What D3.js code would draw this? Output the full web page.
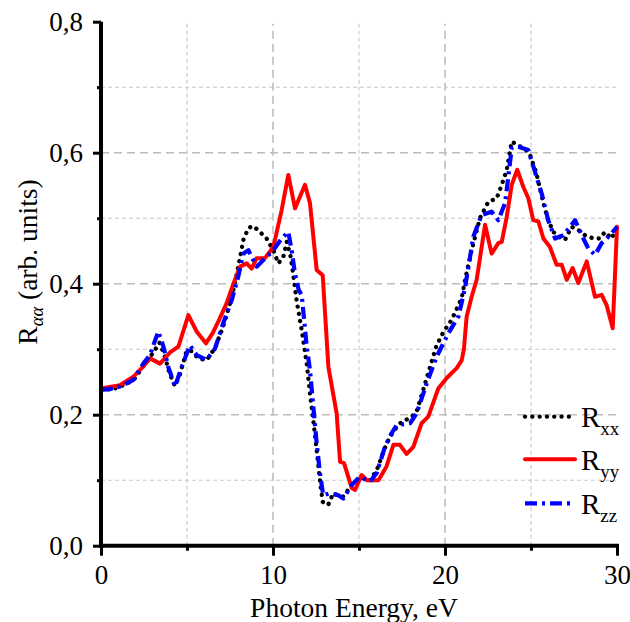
<!DOCTYPE html>
<html>
<head>
<meta charset="utf-8">
<script src="https://cdn.jsdelivr.net/npm/d3@7"></script>
<style>
  html, body { margin: 0; padding: 0; background: #fff; }
  svg { display: block; }
  text { font-family: "Liberation Serif", "Times New Roman", serif; fill: #000; }
</style>
</head>
<body>
<svg id="chart" width="630" height="622"></svg>
<script>
// ---- data ----
const xMajorTicks = [0, 10, 20, 30];
const xMinorTicks = [5, 15, 25];
const yMajorTicks = [0, 0.2, 0.4, 0.6, 0.8];
const yMinorTicks = [0.1, 0.3, 0.5, 0.7];
const xLabel = "Photon Energy, eV";
const seriesNames = ["xx", "yy", "zz"];

// Rxx (black dotted): [energy eV, reflectivity]
const rxx = [
  [0,0.238],[0.7,0.239],[1.3,0.245],[1.9,0.253],[2.4,0.272],[2.85,0.288],[3.14,0.299],[3.4,0.31],
  [3.7,0.29],[4.0,0.262],[4.3,0.244],[4.6,0.262],[4.98,0.298],[5.27,0.297],[5.66,0.286],[6.14,0.283],
  [6.63,0.302],[7.11,0.335],[7.6,0.379],[7.98,0.426],[8.28,0.467],[8.57,0.485],[8.86,0.488],[9.24,0.479],
  [9.63,0.469],[10.02,0.451],[10.31,0.431],[10.6,0.441],[10.8,0.464],[11.03,0.441],[11.18,0.413],
  [11.38,0.373],[11.67,0.329],[11.96,0.278],[12.15,0.233],[12.34,0.192],[12.54,0.146],[12.73,0.100],
  [12.89,0.067],[13.12,0.062],[13.22,0.063],[13.5,0.08],[13.8,0.077],[14.09,0.075],[14.58,0.093],
  [15.06,0.105],[15.64,0.1],[16.03,0.115],[16.6,0.156],[17.0,0.175],[17.5,0.19],[18.0,0.195],[18.35,0.205],
  [18.7,0.235],[19.13,0.273],[19.5,0.305],[19.9,0.326],[20.39,0.345],[20.97,0.378],[21.2,0.41],
  [21.55,0.451],[22.03,0.500],[22.52,0.525],[23.0,0.530],[23.3,0.551],[23.59,0.574],[23.88,0.617],
  [24.2,0.612],[24.55,0.607],[24.9,0.600],[25.3,0.570],[25.72,0.523],[26.0,0.497],[26.3,0.479],
  [26.59,0.472],[26.98,0.467],[27.36,0.487],[27.75,0.482],[28.14,0.474],[28.62,0.469],[29.0,0.469],
  [29.3,0.479],[29.69,0.469],[30.0,0.487]
];

// Ryy (red solid)
const ryy = [
  [0,0.240],[1.1,0.245],[1.88,0.258],[2.4,0.272],[2.85,0.286],[3.43,0.278],[4.01,0.295],[4.5,0.304],
  [5.08,0.352],[5.56,0.327],[6.1,0.309],[6.5,0.325],[6.82,0.342],[7.3,0.370],[7.7,0.40],[8.08,0.426],
  [8.47,0.431],[8.76,0.423],[9.05,0.439],[9.53,0.439],[10.02,0.456],[10.5,0.512],[10.89,0.566],
  [11.28,0.515],[11.86,0.551],[12.15,0.523],[12.54,0.421],[12.89,0.413],[13.22,0.273],[13.7,0.202],
  [13.9,0.128],[14.13,0.126],[14.58,0.088],[14.77,0.085],[15.15,0.108],[15.45,0.100],[16.13,0.100],
  [16.6,0.121],[17.0,0.154],[17.38,0.154],[17.77,0.140],[18.16,0.151],[18.64,0.187],[19.03,0.197],
  [19.61,0.240],[20.1,0.256],[20.68,0.271],[20.97,0.283],[21.1,0.30],[21.26,0.350],[21.55,0.380],
  [21.84,0.406],[22.33,0.490],[22.71,0.446],[23.1,0.462],[23.3,0.464],[23.59,0.502],[23.88,0.551],
  [24.2,0.574],[24.55,0.548],[24.85,0.530],[25.13,0.497],[25.43,0.495],[25.72,0.469],[26.1,0.456],
  [26.49,0.429],[26.78,0.429],[27.08,0.406],[27.42,0.424],[27.75,0.401],[28.24,0.434],[28.72,0.380],
  [29.11,0.383],[29.4,0.367],[29.75,0.332],[29.88,0.411],[30.0,0.487]
];

// Rzz (blue dash-dot)
const rzz = [
  [0,0.238],[0.5,0.239],[1.1,0.243],[1.88,0.253],[2.46,0.278],[2.85,0.291],[3.1,0.31],[3.33,0.327],
  [3.63,0.304],[3.91,0.273],[4.3,0.243],[4.69,0.273],[5.17,0.306],[5.56,0.291],[6.14,0.284],[6.63,0.301],
  [7.11,0.340],[7.6,0.375],[7.98,0.411],[8.28,0.446],[8.57,0.451],[9.05,0.426],[9.44,0.436],[10.02,0.451],
  [10.5,0.469],[10.89,0.479],[11.09,0.450],[11.28,0.415],[11.5,0.39],[11.67,0.383],[11.96,0.304],
  [12.15,0.268],[12.31,0.222],[12.54,0.156],[12.73,0.111],[12.92,0.077],[13.31,0.080],[13.8,0.077],
  [14.09,0.072],[14.58,0.093],[15.06,0.105],[15.64,0.098],[16.03,0.111],[16.51,0.151],[16.9,0.172],
  [17.19,0.184],[17.97,0.187],[18.35,0.202],[18.94,0.248],[19.52,0.289],[20.19,0.324],[20.78,0.350],
  [21.16,0.393],[21.65,0.472],[22.13,0.505],[22.71,0.510],[23.1,0.497],[23.49,0.523],[23.68,0.563],
  [23.88,0.607],[24.26,0.609],[24.84,0.604],[25.23,0.571],[25.62,0.538],[26.0,0.497],[26.4,0.469],
  [26.88,0.474],[27.27,0.487],[27.56,0.497],[27.95,0.474],[28.33,0.454],[28.72,0.444],[29.11,0.462],
  [29.59,0.474],[30.0,0.487]
];

// ---- drawing ----
const svg = d3.select("#chart");
const x = d3.scaleLinear().domain([0, 30]).range([101, 617]);
const y = d3.scaleLinear().domain([0, 0.8]).range([545.7, 21.7]);

// grid
const grid = svg.append("g");
grid.selectAll(".vmaj").data(xMajorTicks.filter(d => d > 0 && d < 30)).join("line")
  .attr("x1", d => x(d)).attr("x2", d => x(d)).attr("y1", y(0)).attr("y2", y(0.8) + 2)
  .attr("stroke", "#bdbdbd").attr("stroke-width", 1.6).attr("stroke-dasharray", "8 5");
grid.selectAll(".vmin").data(xMinorTicks).join("line")
  .attr("x1", d => x(d)).attr("x2", d => x(d)).attr("y1", y(0)).attr("y2", y(0.8) + 2)
  .attr("stroke", "#c8c8c8").attr("stroke-width", 1.1).attr("stroke-dasharray", "4 3");
grid.selectAll(".hmaj").data(yMajorTicks.filter(d => d > 0 && d < 0.8)).join("line")
  .attr("x1", x(0)).attr("x2", x(30)).attr("y1", d => y(d)).attr("y2", d => y(d))
  .attr("stroke", "#bdbdbd").attr("stroke-width", 1.6).attr("stroke-dasharray", "8 5");
grid.selectAll(".hmin").data(yMinorTicks).join("line")
  .attr("x1", x(0)).attr("x2", x(30)).attr("y1", d => y(d)).attr("y2", d => y(d))
  .attr("stroke", "#c8c8c8").attr("stroke-width", 1.1).attr("stroke-dasharray", "4 3");

// curves
const line = d3.line().x(d => x(d[0])).y(d => y(d[1])).curve(d3.curveLinear);
const styles = {
  xx: { data: rxx, color: "#000000", width: 4.3, dash: "0.1 7.2", cap: "round" },
  yy: { data: ryy, color: "#ff0000", width: 4, dash: null, cap: "round" },
  zz: { data: rzz, color: "#0000ff", width: 4.2, dash: "12 5 3 5", cap: "butt" }
};
const curves = svg.append("g");
seriesNames.forEach(k => {
  const s = styles[k];
  curves.append("path").datum(s.data)
    .attr("d", line).attr("fill", "none")
    .attr("stroke", s.color).attr("stroke-width", s.width)
    .attr("stroke-linejoin", "round").attr("stroke-linecap", s.cap)
    .attr("stroke-dasharray", s.dash);
});

// axes
const fmt = d => d3.format(".1f")(d).replace(".", ",");
const yAxis = svg.append("g").attr("transform", `translate(${x(0)},0)`)
  .call(d3.axisLeft(y).tickValues(yMajorTicks).tickFormat(fmt).tickSize(8).tickSizeOuter(0).tickPadding(10));
const yMinor = svg.append("g").attr("transform", `translate(${x(0)},0)`)
  .call(d3.axisLeft(y).tickValues(yMinorTicks).tickFormat("").tickSize(4).tickSizeOuter(0));
const xAxis = svg.append("g").attr("transform", `translate(0,${y(0)})`)
  .call(d3.axisBottom(x).tickValues(xMajorTicks).tickFormat(d3.format("d")).tickSize(10).tickSizeOuter(0).tickPadding(9));
const xMinor = svg.append("g").attr("transform", `translate(0,${y(0)})`)
  .call(d3.axisBottom(x).tickValues(xMinorTicks).tickFormat("").tickSize(5).tickSizeOuter(0));

[yAxis, yMinor, xAxis, xMinor].forEach(g => {
  g.attr("font-family", null);
  g.select(".domain").attr("stroke", "#000").attr("stroke-width", 4);
  g.selectAll(".tick line").attr("stroke", "#000").attr("stroke-width", 3);
  g.selectAll(".tick text").attr("font-size", 27);
});
yMinor.select(".domain").remove();
xMinor.select(".domain").remove();
xAxis.select(".domain").attr("d", `M${x(0) - 2},0H${x(30) + 2}`);
yAxis.select(".domain").attr("d", `M0,${y(0.8)}V${y(0) + 2}`);

// axis titles
svg.append("text").attr("x", 354).attr("y", 617).attr("text-anchor", "middle")
  .attr("font-size", 27.5).text(xLabel);

const yt = svg.append("text").attr("transform", `translate(37,262) rotate(-90)`)
  .attr("text-anchor", "middle").attr("font-size", 27.5);
yt.append("tspan").text("R");
yt.append("tspan").attr("font-size", 18.5).attr("font-style", "italic").attr("dy", 6).text("αα");
yt.append("tspan").attr("dy", -6).text(" (arb. units)");

// legend
const legend = svg.append("g");
const legRows = [416.7, 459.3, 503.3];
seriesNames.forEach((k, i) => {
  const s = styles[k];
  const ly = legRows[i];
  legend.append("line").attr("x1", 525).attr("x2", 575).attr("y1", ly).attr("y2", ly)
    .attr("stroke", s.color).attr("stroke-width", s.width)
    .attr("stroke-linecap", s.cap).attr("stroke-dasharray", s.dash);
  const t = legend.append("text").attr("x", 581).attr("y", ly + 10.5).attr("font-size", 29);
  t.append("tspan").text("R");
  t.append("tspan").attr("font-size", 19).attr("dy", 8).text(k);
});
</script>
</body>
</html>
